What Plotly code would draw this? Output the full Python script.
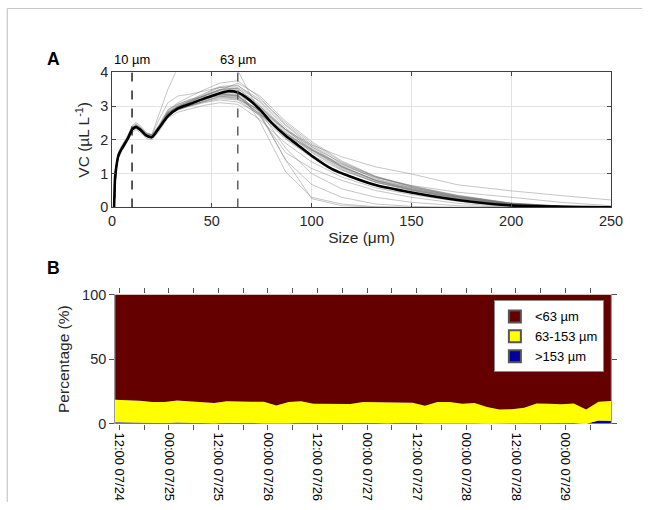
import plotly.graph_objects as go
import pandas as pd

# ---------------- Panel A data ----------------
size_grid = [1, 1.5, 2, 3, 4, 5, 6.5, 8, 10, 12, 14.5, 17, 20, 23.5, 28, 33, 39, 46, 54, 63,
             74, 87, 100, 115, 132, 150, 173, 200, 225, 250]

vc_runs = [
    [0,1.0,1.25,1.6,1.75,1.85,2.0,2.15,2.42,2.52,2.4,2.22,2.15,2.42,2.88,3.1,3.28,3.48,3.68,3.75,3.25,2.45,1.85,1.3,0.85,0.58,0.32,0.12,0.04,0.01],
    [0,0.85,1.1,1.42,1.58,1.68,1.82,1.98,2.22,2.3,2.2,2.05,2.0,2.25,2.65,2.82,2.92,3.02,3.1,3.05,2.6,1.9,1.35,0.9,0.58,0.38,0.18,0.05,0.01,0],
    [0,0.95,1.2,1.55,1.7,1.8,1.95,2.1,2.35,2.45,2.34,2.18,2.12,2.4,2.82,3.0,3.15,3.32,3.5,3.52,3.05,2.3,1.7,1.18,0.78,0.52,0.28,0.09,0.03,0],
    [0,0.88,1.12,1.48,1.62,1.72,1.88,2.02,2.28,2.36,2.26,2.1,2.05,2.3,2.72,2.9,3.02,3.15,3.28,3.25,2.78,2.05,1.5,1.02,0.67,0.45,0.24,0.07,0.02,0],
    [0,0.92,1.18,1.52,1.68,1.78,1.93,2.08,2.33,2.42,2.3,2.15,2.1,2.38,2.8,2.98,3.12,3.3,3.48,3.55,3.15,2.42,1.8,1.22,0.8,0.52,0.27,0.08,0.02,0],
    [0,0.9,1.15,1.5,1.64,1.74,1.9,2.04,2.3,2.4,2.3,2.14,2.08,2.33,2.75,2.92,3.05,3.2,3.35,3.32,2.82,2.08,1.55,1.1,0.75,0.53,0.3,0.1,0.03,0],
    [0,0.9,1.15,1.5,1.65,1.76,1.9,2.05,2.3,2.38,2.28,2.13,2.1,2.36,2.8,2.98,3.1,3.25,3.38,3.35,2.95,2.3,1.85,1.5,1.2,0.99,0.67,0.49,0.35,0.22],
    [0,0.9,1.14,1.48,1.64,1.74,1.88,2.03,2.28,2.36,2.26,2.12,2.06,2.33,2.76,2.95,3.08,3.2,3.32,3.3,2.85,2.2,1.7,1.25,0.88,0.65,0.45,0.3,0.15,0.05],
    [0,0.9,1.15,1.5,1.65,1.75,1.9,2.05,2.3,2.35,2.25,2.12,2.17,2.75,3.5,4.15,4.5,4.6,4.4,4.05,2.8,1.4,0.26,0.05,0.01,0,0,0,0,0],
    [0,0.92,1.17,1.52,1.67,1.77,1.92,2.07,2.32,2.42,2.31,2.15,2.1,2.38,2.8,3.0,3.15,3.3,3.48,3.5,2.55,1.05,0.3,0.1,0.02,0,0,0,0,0],
    [0,0.9,1.15,1.5,1.65,1.75,1.9,2.05,2.3,2.38,2.28,2.13,2.08,2.35,2.75,2.92,3.05,3.2,3.35,3.3,2.75,1.4,0.68,0.3,0.1,0.03,0,0,0,0],
    [0,0.88,1.13,1.48,1.63,1.73,1.88,2.03,2.28,2.36,2.26,2.11,2.06,2.32,2.72,2.9,3.02,3.16,3.3,3.28,2.85,1.75,1.0,0.55,0.3,0.15,0.05,0.01,0,0],
    [0,0.91,1.16,1.51,1.66,1.76,1.91,2.06,2.31,2.39,2.29,2.14,2.09,2.36,2.78,2.95,3.08,3.22,3.36,3.32,2.7,1.62,1.15,0.8,0.5,0.3,0.12,0.02,0,0],
    [0,0.93,1.17,1.53,1.67,1.77,1.92,2.07,2.32,2.4,2.29,2.14,2.09,2.36,2.77,2.96,3.12,3.3,3.45,3.45,2.97,2.2,1.62,1.12,0.74,0.5,0.26,0.08,0.02,0],
    [0,0.87,1.12,1.47,1.62,1.72,1.87,2.02,2.27,2.34,2.25,2.1,2.04,2.3,2.7,2.88,3.0,3.12,3.22,3.18,2.72,2.02,1.48,1.0,0.66,0.44,0.22,0.06,0.01,0],
    [0,0.96,1.22,1.57,1.72,1.82,1.97,2.12,2.38,2.48,2.36,2.2,2.14,2.44,2.9,3.06,3.18,3.36,3.58,3.62,3.12,2.35,1.75,1.22,0.8,0.55,0.3,0.1,0.03,0],
    [0,0.9,1.15,1.5,1.66,1.76,1.91,2.06,2.31,2.39,2.29,2.14,2.1,2.4,2.85,3.05,3.2,3.28,3.3,3.22,2.78,2.15,1.68,1.2,0.82,0.58,0.33,0.12,0.04,0],
    [0,0.89,1.13,1.49,1.63,1.73,1.89,2.03,2.29,2.37,2.27,2.12,2.07,2.34,2.74,2.9,3.0,3.1,3.18,3.12,2.75,2.18,1.72,1.28,0.9,0.62,0.35,0.12,0.03,0],
    [0,0.94,1.19,1.54,1.69,1.79,1.94,2.09,2.34,2.44,2.33,2.17,2.11,2.39,2.83,3.02,3.16,3.35,3.55,3.6,3.2,2.5,1.9,1.35,0.9,0.6,0.32,0.1,0.03,0],
    [0,0.91,1.16,1.51,1.66,1.76,1.91,2.06,2.3,2.37,2.27,2.13,2.08,2.34,2.76,2.94,3.06,3.22,3.38,3.42,3.0,2.3,1.72,1.2,0.8,0.55,0.3,0.09,0.02,0],
    [0,0.95,1.2,1.55,1.7,1.8,1.95,2.1,2.35,2.45,2.35,2.2,2.15,2.6,3.1,3.3,3.35,3.45,3.55,3.52,3.0,2.25,1.65,1.15,0.75,0.5,0.26,0.08,0.02,0],
    [0,0.93,1.18,1.53,1.68,1.78,1.93,2.08,2.33,2.43,2.32,2.16,2.1,2.36,2.78,2.97,3.12,3.28,3.46,3.68,3.3,2.55,1.95,1.38,0.92,0.62,0.34,0.11,0.03,0],
    [0,0.89,1.14,1.49,1.64,1.74,1.89,2.04,2.29,2.37,2.27,2.12,2.07,2.33,2.73,2.9,3.02,3.14,3.26,3.2,2.88,2.3,1.8,1.32,0.92,0.64,0.36,0.13,0.04,0],
]

mean_size = [1, 1.5, 2, 3, 4, 5, 6.5, 8, 10, 12, 14.5, 17, 20, 23.5, 28, 33, 39, 46, 54, 58, 63,
             68, 74, 80, 87, 93, 100, 110, 120, 132, 150, 173, 200, 225, 250]
mean_vc = [0, 0.9, 1.15, 1.5, 1.65, 1.75, 1.9, 2.05, 2.3, 2.38, 2.28, 2.13, 2.08, 2.35, 2.7, 2.93,
           3.06, 3.22, 3.38, 3.44, 3.4, 3.22, 2.9, 2.5, 2.12, 1.85, 1.53, 1.14, 0.9, 0.66, 0.44,
           0.22, 0.06, 0.02, 0]

marker_sizes = [10, 63]
marker_labels = ["10 µm", "63 µm"]
marker_colors = ["#111111", "#555555"]

# ---------------- Panel B data ----------------
times = pd.date_range("2019-07-24 11:00", periods=41, freq="3h")
pct_lt63 = [81.4, 81.7, 82.1, 83.2, 83.1, 82.0, 82.8, 83.4, 84.0, 82.5, 83.0, 83.0, 83.0, 85.8,
            83.2, 82.5, 84.5, 84.5, 84.8, 84.7, 83.2, 83.3, 83.5, 83.6, 83.8, 86.0, 83.2, 83.2,
            84.4, 84.0, 87.0, 89.0, 88.7, 87.6, 84.2, 84.4, 84.9, 84.2, 89.0, 83.0, 82.3]
pct_63_153 = [17.4, 17.3, 17.0, 16.2, 16.2, 16.9, 16.4, 16.1, 15.6, 16.7, 16.1, 16.3, 16.5, 13.9,
              16.4, 16.6, 14.7, 15.0, 14.6, 14.6, 15.9, 16.1, 16.0, 15.6, 15.3, 13.6, 16.3, 16.2,
              14.9, 15.5, 12.7, 10.7, 10.9, 11.9, 15.0, 14.9, 14.5, 15.1, 10.9, 14.4, 15.4]
pct_gt153 = [1.2, 1.0, 0.9, 0.6, 0.7, 1.1, 0.8, 0.5, 0.4, 0.8, 0.9, 0.7, 0.5, 0.3, 0.4, 0.9, 0.8,
             0.5, 0.6, 0.7, 0.9, 0.6, 0.5, 0.8, 0.9, 0.4, 0.5, 0.6, 0.7, 0.5, 0.3, 0.3, 0.4, 0.5,
             0.8, 0.7, 0.6, 0.7, 0.1, 2.6, 2.3]
class_names = ["&lt;63 µm", "63-153 µm", "&gt;153 µm"]
class_colors = ["#640000", "#FFFF00", "#00009C"]

FONT = "Liberation Sans, Arial, Helvetica, sans-serif"
TXT = "#262626"

# The page is photographed with an 8 px body margin and a slight down-scale;
# convert target-image pixels to paper coords of a W x H figure.
W, H, OFF, S = 654, 510, 8, 0.968


def px(x):
    return (x / S - OFF) / W


def py(y):
    return 1 - (y / S - OFF) / H


def fs(v):
    return v / S


fig = go.Figure()

for run in vc_runs:
    fig.add_trace(go.Scatter(x=size_grid, y=run, mode="lines",
                             line=dict(color="rgba(110,110,110,0.5)", width=0.8),
                             showlegend=False, hoverinfo="skip", xaxis="x", yaxis="y"))
fig.add_trace(go.Scatter(x=mean_size, y=mean_vc, mode="lines",
                         line=dict(color="black", width=2.6, shape="spline", smoothing=0.6),
                         showlegend=False, xaxis="x", yaxis="y"))

# stacked areas (bottom first)
stack = [(pct_gt153, 2), (pct_63_153, 1), (pct_lt63, 0)]
for vals, k in stack:
    fig.add_trace(go.Scatter(x=times, y=vals, mode="lines", stackgroup="one",
                             line=dict(width=0, color=class_colors[k]),
                             fillcolor=class_colors[k], name=class_names[k],
                             showlegend=False, xaxis="x2", yaxis="y2"))
# legend-only boxed swatches
for k in [2, 1, 0]:
    fig.add_trace(go.Bar(x=[None], y=[None], name=class_names[k],
                         marker=dict(color=class_colors[k], line=dict(color="#555555", width=1)),
                         xaxis="x2", yaxis="y2", showlegend=True))

shapes = []
for s, c in zip(marker_sizes, marker_colors):
    shapes.append(dict(type="line", xref="x", yref="y", x0=s, x1=s, y0=0, y1=4,
                       line=dict(color=c, width=1.4, dash="dash")))
# page frame (top and left)
shapes.append(dict(type="line", xref="paper", yref="paper", x0=px(11), x1=1.0,
                   y0=0.999, y1=0.999, line=dict(color="#c8c8c8", width=1.2)))
shapes.append(dict(type="line", xref="paper", yref="paper", x0=px(11), x1=px(11),
                   y0=0, y1=0.999, line=dict(color="#c8c8c8", width=1.2)))

annotations = []
for s, lab in zip(marker_sizes, marker_labels):
    annotations.append(dict(x=s, y=1.0, xref="x", yref="y domain", text=lab, showarrow=False,
                            yanchor="bottom", yshift=3,
                            font=dict(size=fs(12.5), color="black", family=FONT)))
annotations.append(dict(x=px(48), y=py(47), xref="paper", yref="paper", text="<b>A</b>",
                        showarrow=False, font=dict(size=fs(17), color="black", family=FONT)))
annotations.append(dict(x=px(48), y=py(268), xref="paper", yref="paper", text="<b>B</b>",
                        showarrow=False, font=dict(size=fs(17), color="black", family=FONT)))

fig.update_layout(
    width=W, height=H,
    margin=dict(l=0, r=0, t=0, b=0),
    paper_bgcolor="white", plot_bgcolor="white",
    font=dict(family=FONT, color=TXT, size=fs(14)),
    shapes=shapes, annotations=annotations,
    xaxis=dict(domain=[px(115), px(610)], anchor="y", range=[0, 250],
               tickvals=[0, 50, 100, 150, 200, 250], ticks="inside", ticklen=4,
               showline=True, linecolor="#404040", linewidth=1, mirror="ticks",
               showgrid=True, gridcolor="#e3e3e3", zeroline=False,
               tickfont=dict(size=fs(14), color=TXT),
               title=dict(text="Size (μm)", font=dict(size=fs(15), color=TXT), standoff=4)),
    yaxis=dict(domain=[py(207), py(72)], anchor="x", range=[0, 4],
               tickvals=[0, 1, 2, 3, 4], ticks="inside", ticklen=4,
               showline=True, linecolor="#404040", linewidth=1, mirror="ticks",
               showgrid=True, gridcolor="#e3e3e3", zeroline=False,
               tickfont=dict(size=fs(14), color=TXT),
               title=dict(text="VC (µL L<sup>-1</sup>)", font=dict(size=fs(15), color=TXT), standoff=6)),
    xaxis2=dict(domain=[px(118), px(610)], anchor="y2", type="date",
                range=[times[0], times[-1]],
                tick0="2019-07-24 12:00", dtick=12*3600*1000, tickformat="%H:%M %m/%d",
                tickangle=90, ticks="outside", ticklen=5, tickcolor="#555555",
                showline=False, mirror="ticks", showgrid=False, zeroline=False,
                tickfont=dict(size=13, color="black"),
                minor=dict(dtick=6*3600*1000, tick0="2019-07-24 12:00", ticks="outside",
                           ticklen=5, tickcolor="#555555", showgrid=False)),
    yaxis2=dict(domain=[py(423.3), py(294)], anchor="x2", range=[0, 100],
                tickvals=[0, 50, 100], ticks="outside", ticklen=5, tickcolor="#555555",
                showline=True, linecolor="#999999", linewidth=1, mirror="ticks",
                showgrid=False, zeroline=False,
                tickfont=dict(size=fs(14), color=TXT),
                title=dict(text="Percentage (%)", font=dict(size=fs(15), color=TXT), standoff=8)),
    legend=dict(x=px(603), y=py(300), xanchor="right", yanchor="top",
                traceorder="reversed", bgcolor="white", bordercolor="#888888", borderwidth=1,
                font=dict(size=13, color="black", family=FONT),
                tracegroupgap=0, itemsizing="constant"),
    showlegend=True,
)

fig.write_html("out.html")
